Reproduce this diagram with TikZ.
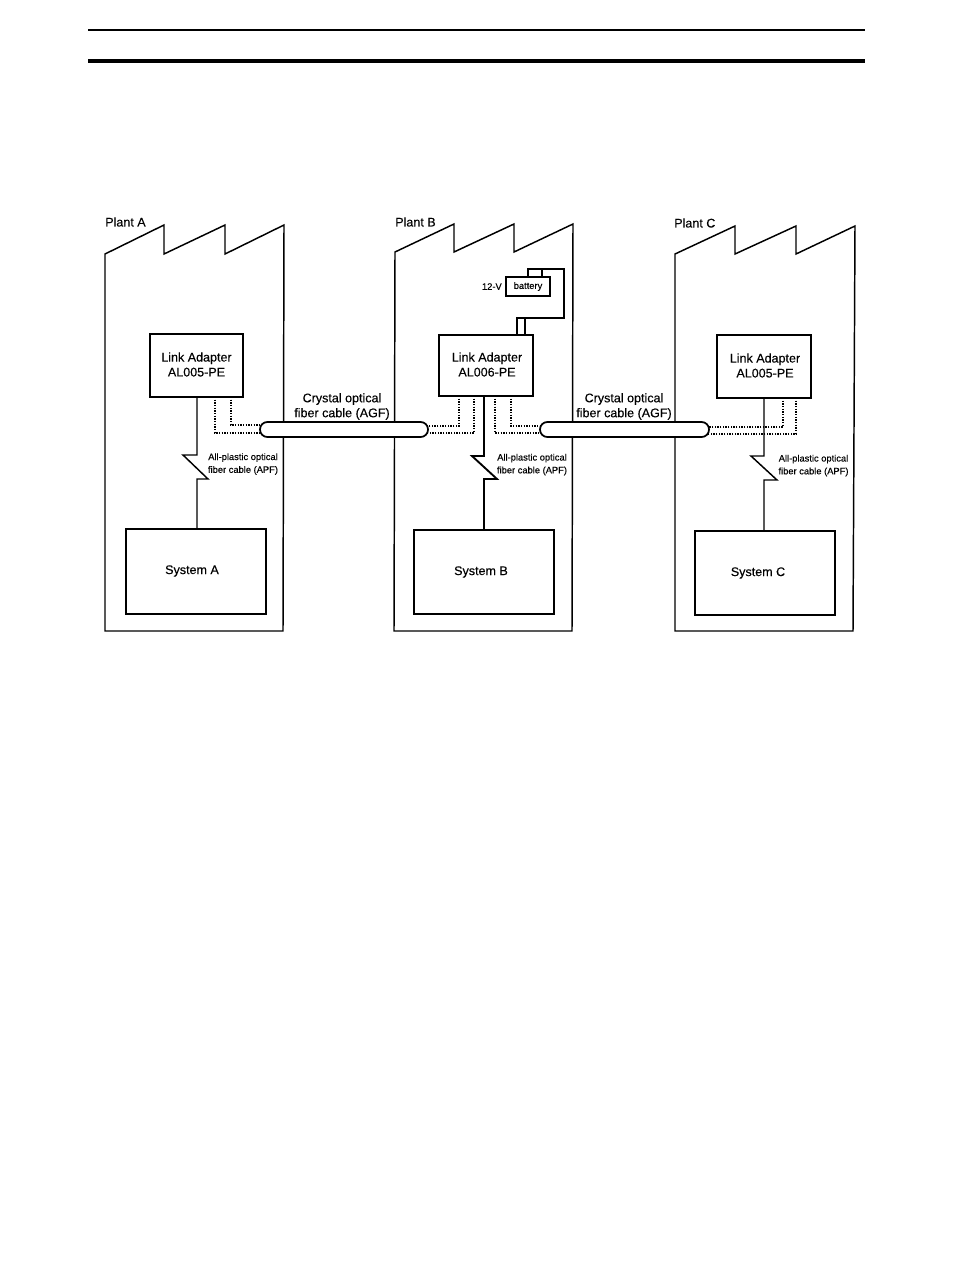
\documentclass[tikz,border=0pt]{standalone}
\usepackage{fontspec}
\setmainfont[AutoFakeBold=0.3]{Liberation Sans}
\newfontfamily\scanfont[FakeBold=0.25]{Liberation Sans}
\usetikzlibrary{calc}
\tikzset{
  x=0.75pt,y=-0.75pt,
  wall/.style={line width=1.1pt,line join=miter},
  boxn/.style={draw,line width=1.2pt,fill=white,inner sep=0pt,outer sep=0pt},
  wire/.style={line width=1.1pt},
  dots/.style={line width=0.95pt,dash pattern=on 1pt off 1pt},
  cable/.style={draw,line width=1.3pt,fill=white,rounded corners=5.5pt,inner sep=0pt,outer sep=0pt,minimum height=11.25pt},
  big/.style={font=\scanfont\fontsize{9.4}{11.2}\selectfont,align=center,inner sep=0pt},
  small/.style={font=\scanfont\fontsize{7}{9.6}\selectfont,align=center,inner sep=0pt},
}
\begin{document}
\begin{tikzpicture}
\useasboundingbox (0,0) rectangle (954,1268);
% header rules
\coordinate (hl1) at (88,30); \coordinate (hr1) at (865,30);
\coordinate (hl2) at (88,61); \coordinate (hr2) at (865,61);
\draw[line width=1pt] (hl1) -- (hr1);
\draw[line width=2.4pt] (hl2) -- (hr2);
% plants
\draw[wall] (105,631) -- (105,254) -- (164,225) -- (164,254) -- (225,225) -- (225,254) -- (284,225) -- (283,631) -- cycle;
\draw[wall] (394,631) -- (395,252) -- (454,224) -- (454,252) -- (514,224) -- (514,252) -- (573,224) -- (572,631) -- cycle;
\draw[wall] (675,631) -- (675,254) -- (735,226) -- (735,254) -- (796,226) -- (796,254) -- (855,226) -- (853,631) -- cycle;
\node[big,anchor=west] (pa) at (105,222) {Plant A};
\node[big,anchor=west] (pb) at (395,222) {Plant B};
\node[big,anchor=west] (pc) at (674,223) {Plant C};
% adapters
\node[boxn,minimum width=69.75pt,minimum height=47.25pt] (laA) at (196.5,365.5) {};
\node[boxn,minimum width=70.5pt,minimum height=45.75pt] (laB) at (486,365.5) {};
\node[boxn,minimum width=70.5pt,minimum height=47.25pt] (laC) at (764,366.5) {};
\node[big] (tA) at (196.5,364.5) {Link Adapter\\AL005-PE};
\node[big] (tB) at (487,364.5) {Link Adapter\\AL006-PE};
\node[big] (tC) at (765,365.5) {Link Adapter\\AL005-PE};
% systems
\node[boxn,minimum width=105pt,minimum height=63.75pt] (sA) at (196,571.5) {};
\node[boxn,minimum width=105pt,minimum height=63pt] (sB) at (484,572) {};
\node[boxn,minimum width=105pt,minimum height=63pt] (sC) at (765,573) {};
\node[big] (ltA) at (192,571) {System A};
\node[big] (ltB) at (481,572) {System B};
\node[big] (ltC) at (758,573) {System C};
% dotted fibres
\coordinate (c1) at (231,425); \coordinate (c2) at (215,433);
\coordinate (c3) at (459,426); \coordinate (c4) at (474,433);
\coordinate (c5) at (495,433); \coordinate (c6) at (511,426);
\coordinate (c7) at (783,427); \coordinate (c8) at (796,434);
\coordinate (e1) at (268,425); \coordinate (e2) at (268,433);
\coordinate (e3) at (420,426); \coordinate (e4) at (420,433);
\coordinate (e5) at (548,433); \coordinate (e6) at (548,426);
\coordinate (e7) at (700,427); \coordinate (e8) at (700,434);
\draw[dots] (c1 |- laA.south) -- (c1) -- (e1);
\draw[dots] (c2 |- laA.south) -- (c2) -- (e2);
\draw[dots] (c3 |- laB.south) -- (c3) -- (e3);
\draw[dots] (c4 |- laB.south) -- (c4) -- (e4);
\draw[dots] (c5 |- laB.south) -- (c5) -- (e5);
\draw[dots] (c6 |- laB.south) -- (c6) -- (e6);
\draw[dots] (c7 |- laC.south) -- (c7) -- (e7);
\draw[dots] (c8 |- laC.south) -- (c8) -- (e8);
% crystal cables
\node[cable,minimum width=126pt] (cab1) at (344,429.5) {};
\node[cable,minimum width=126.75pt] (cab2) at (624.5,429.5) {};
\node[big] (cl1) at (342,406.5) {Crystal optical\\fiber cable (AGF)};
\node[big] (cl2) at (624,406.5) {Crystal optical\\fiber cable (AGF)};
% APF zigzags
\coordinate (zA) at (197,455); \coordinate (zB) at (484,456); \coordinate (zC) at (764,456);
\draw[wire] (zA |- laA.south) -- (zA) -- (183,455) -- (208,479) -- (197,479) -- (zA |- sA.north);
\draw[line width=1.4pt] (zB |- laB.south) -- (zB) -- (472,456) -- (497,479) -- (484,479) -- (zB |- sB.north);
\draw[wire] (zC |- laC.south) -- (zC) -- (751,456) -- (777,480) -- (764,480) -- (zC |- sC.north);
\node[small] (ap1) at (243,464) {All-plastic optical\\fiber cable (APF)};
\node[small] (ap2) at (532,464.5) {All-plastic optical\\fiber cable (APF)};
\node[small] (ap3) at (813.5,465.5) {All-plastic optical\\fiber cable (APF)};
% battery
\node[boxn,minimum width=33pt,minimum height=14.25pt,font=\scanfont\fontsize{7}{8}\selectfont] (bat) at (528,286.5) {battery};
\node[small,anchor=east] (v12) at (502,286.5) {12-V};
\coordinate (b1) at (528,269); \coordinate (b2) at (542,269);
\coordinate (b3) at (517,318); \coordinate (b4) at (525,318);
\draw[wire] (b1 |- bat.north) -- (b1) -- (564,269) -- (564,318) -- (b3) -- (b3 |- laB.north);
\draw[wire] (b2 |- bat.north) -- (b2);
\draw[wire] (b4) -- (b4 |- laB.north);
\end{tikzpicture}
\end{document}
